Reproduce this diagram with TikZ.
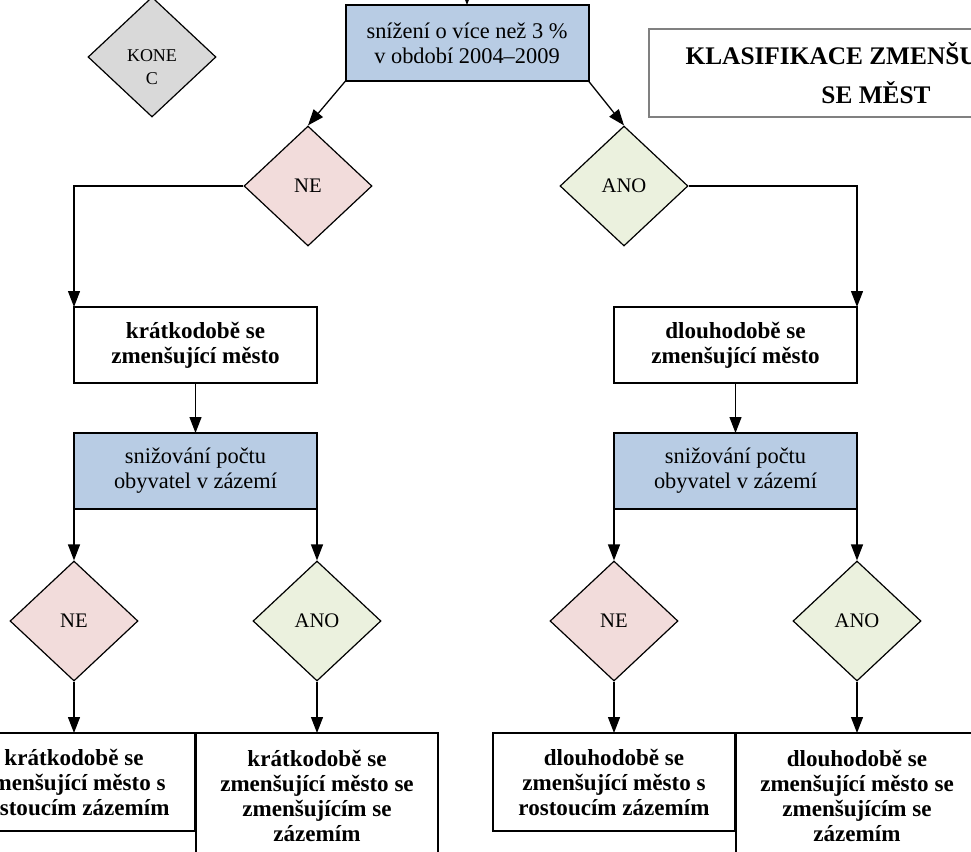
\documentclass[tikz,border=0pt]{standalone}
\usepackage{fontspec}
\setmainfont{Liberation Serif}
\usetikzlibrary{shapes.geometric,arrows.meta}
\definecolor{boxblue}{HTML}{B8CCE4}
\definecolor{nepink}{HTML}{F2DCDB}
\definecolor{anogreen}{HTML}{EBF1DE}
\definecolor{konecgray}{HTML}{D9D9D9}
\begin{document}
\begin{tikzpicture}[x=0.75pt,y=-0.75pt,
  regtext/.style={font=\fontsize{16.8pt}{18.75pt}\selectfont},
  boldtext/.style={font=\fontsize{17.3pt}{18.75pt}\selectfont\bfseries},
  bluebox/.style={draw,line width=1.5pt,fill=boxblue,minimum width=182.25pt,minimum height=57pt,align=center,inner sep=0pt,outer sep=0pt,regtext},
  whitebox/.style={draw,line width=1.3pt,fill=white,minimum width=182.25pt,minimum height=57pt,align=center,inner sep=0pt,outer sep=0pt,boldtext},
  dec/.style={draw,diamond,line width=0.9pt,minimum width=96pt,minimum height=90pt,inner sep=0pt,font=\fontsize{15.5pt}{17pt}\selectfont},
  nedec/.style={dec,fill=nepink},
  anodec/.style={dec,fill=anogreen},
  arr/.style={-{Triangle[length=12pt,width=9pt]},line width=0.95pt}]
\useasboundingbox (0,0) rectangle (971,851);
\clip (0,0) rectangle (971,851);
\fill[white] (0,0) rectangle (971,851);

% top
\node[bluebox] (top) at (467,43) {snížení o více než 3 \%\\v období 2004–2009};
\coordinate (topin) at (467,-20);

% KONEC
\node[dec,fill=konecgray] (konec) at (152,57) {};
\node[font=\fontsize{13.5pt}{17pt}\selectfont,align=center,inner sep=0pt] (konect) at (152,67) {KONE\\C};

% title
\node[draw=black!50,line width=1.5pt,minimum width=340.5pt,minimum height=66pt,align=center,inner sep=0pt,
      font=\fontsize{19pt}{29.25pt}\selectfont\bfseries] (title) at (876,73) {KLASIFIKACE ZMENŠUJÍCÍCH\\SE MĚST};

% first level decisions
\node[nedec] (ne1) at (308,186) {NE};
\node[anodec] (ano1) at (624,186) {ANO};

% second level boxes
\node[whitebox] (kr) at (195.5,345) {krátkodobě se\\zmenšující město};
\node[whitebox] (dl) at (735.5,345) {dlouhodobě se\\zmenšující město};

\node[bluebox] (blue1) at (195.5,471) {snižování počtu\\obyvatel v zázemí};
\node[bluebox] (blue2) at (735.5,471) {snižování počtu\\obyvatel v zázemí};

% third level decisions
\node[nedec] (ne2) at (74,621) {NE};
\node[anodec] (ano2) at (317,621) {ANO};
\node[nedec] (ne3) at (614,621) {NE};
\node[anodec] (ano3) at (857,621) {ANO};

% bottom boxes
\node[whitebox,minimum width=181.5pt,minimum height=73.5pt] (b1) at (74,782) {krátkodobě se\\zmenšující město s\\rostoucím zázemím};
\node[whitebox,minimum width=181.5pt,minimum height=93.75pt] (b2) at (317,795.5) {krátkodobě se\\zmenšující město se\\zmenšujícím se\\zázemím};
\node[whitebox,minimum width=181.5pt,minimum height=73.5pt] (b3) at (614,782) {dlouhodobě se\\zmenšující město s\\rostoucím zázemím};
\node[whitebox,minimum width=181.5pt,minimum height=93.75pt] (b4) at (857,795.5) {dlouhodobě se\\zmenšující město se\\zmenšujícím se\\zázemím};

% connectors
\draw[arr] (topin) -- (top.north);
\draw[arr] (top.south west) -- (ne1.north);
\draw[arr] (top.south east) -- (ano1.north);
\draw[arr] (ne1.west) -| (kr.north west);
\draw[arr] (ano1.east) -| (dl.north east);
\draw[arr] (kr.south) -- (blue1.north);
\draw[arr] (dl.south) -- (blue2.north);
\draw[arr] (blue1.south west) -- (ne2.north);
\draw[arr] (blue1.south east) -- (ano2.north);
\draw[arr] (blue2.south west) -- (ne3.north);
\draw[arr] (blue2.south east) -- (ano3.north);
\draw[arr] (ne2.south) -- (b1.north);
\draw[arr] (ano2.south) -- (b2.north);
\draw[arr] (ne3.south) -- (b3.north);
\draw[arr] (ano3.south) -- (b4.north);
\end{tikzpicture}
\end{document}
